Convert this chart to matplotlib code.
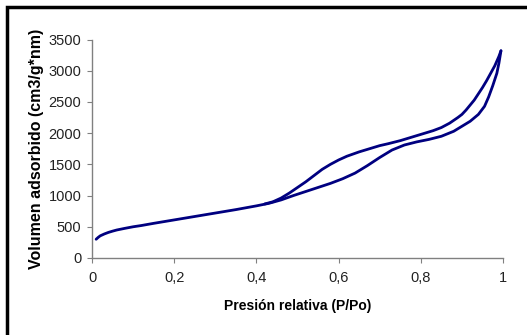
import matplotlib
matplotlib.use("Agg")
import matplotlib.pyplot as plt
from matplotlib.patches import Rectangle
from matplotlib.ticker import FuncFormatter

plt.rcParams['font.family'] = ['Liberation Sans', 'DejaVu Sans']

# Adsorption branch
ads_x = [0.01, 0.015, 0.02, 0.03, 0.04, 0.05, 0.06, 0.08, 0.10, 0.12, 0.15, 0.20,
         0.25, 0.30, 0.35, 0.40, 0.43, 0.46, 0.49, 0.52, 0.55, 0.58, 0.61, 0.64,
         0.67, 0.70, 0.73, 0.76, 0.79, 0.82, 0.85, 0.88, 0.90, 0.92, 0.94, 0.955,
         0.965, 0.975, 0.985, 0.99, 0.995]
ads_v = [300, 330, 355, 385, 410, 430, 448, 475, 500, 520, 555, 610,
         665, 720, 775, 835, 875, 930, 1000, 1065, 1130, 1195, 1270, 1360,
         1480, 1610, 1730, 1810, 1860, 1900, 1950, 2030, 2110, 2190, 2300, 2430,
         2580, 2760, 2960, 3120, 3320]
# Desorption branch
des_x = [0.995, 0.99, 0.98, 0.97, 0.96, 0.95, 0.94, 0.93, 0.92, 0.91, 0.90, 0.89,
         0.87, 0.85, 0.83, 0.81, 0.79, 0.77, 0.75, 0.72, 0.70, 0.68, 0.65, 0.62,
         0.60, 0.58, 0.56, 0.54, 0.52, 0.50, 0.48, 0.46, 0.44, 0.42]
des_v = [3320, 3230, 3080, 2960, 2840, 2730, 2630, 2530, 2450, 2370, 2300, 2250,
         2160, 2090, 2040, 2000, 1960, 1920, 1880, 1830, 1800, 1760, 1700, 1630,
         1570, 1500, 1420, 1320, 1220, 1130, 1040, 960, 900, 865]

xticks = [0, 0.2, 0.4, 0.6, 0.8, 1.0]
yticks = [0, 500, 1000, 1500, 2000, 2500, 3000, 3500]

fig = plt.figure(figsize=(5.27, 3.35), dpi=100)
ax = fig.add_axes([0.1746, 0.2299, 0.9545 - 0.1746, 0.882 - 0.2299])

col = '#000080'
ax.plot(ads_x, ads_v, color=col, lw=2.0, solid_capstyle='round', solid_joinstyle='round')
ax.plot(des_x, des_v, color=col, lw=2.0, solid_capstyle='round', solid_joinstyle='round')

ax.set_xlim(0, 1)
ax.set_ylim(0, 3500)
ax.set_xticks(xticks)
ax.set_yticks(yticks)
ax.xaxis.set_major_formatter(FuncFormatter(lambda v, p: ('%g' % v).replace('.', ',')))
for s in ['top', 'right']:
    ax.spines[s].set_visible(False)
for s in ['left', 'bottom']:
    ax.spines[s].set_color('#808080')
    ax.spines[s].set_linewidth(1.0)
ax.tick_params(axis='x', direction='out', length=3.6, color='#808080', labelsize=10.5,
               labelcolor='#222222', pad=6)
ax.tick_params(axis='y', direction='out', length=3.6, color='#808080', labelsize=10.5,
               labelcolor='#222222', pad=4)

ax.set_xlabel('Presión relativa (P/Po)', fontsize=10, fontweight='bold', labelpad=10)
ax.set_ylabel('Volumen adsorbido (cm3/g*nm)', fontsize=11.5, fontweight='bold', labelpad=3)

fig.patches.append(Rectangle((7 / 527, -0.1), 1.2, (335 - 7) / 335 + 0.1,
                             transform=fig.transFigure, fill=False,
                             edgecolor='black', linewidth=2.5))

fig.savefig('out.png', dpi=100)
